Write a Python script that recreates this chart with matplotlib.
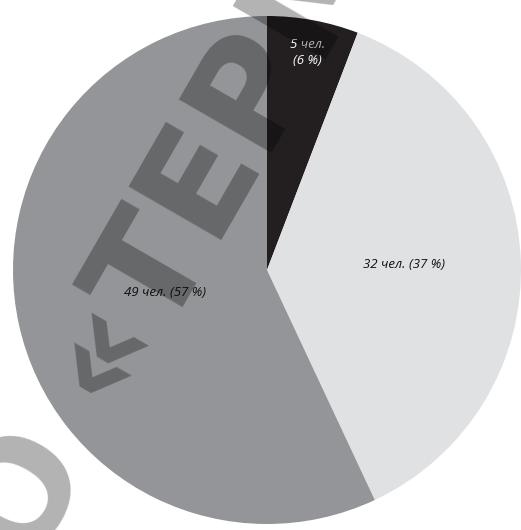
import numpy as np
import matplotlib.pyplot as plt

# people per answer and their shares
counts = [5, 32, 49]
shares = [6, 37, 57]
colors = ['#231f20', '#e0e1e3', '#939598']
text_colors = ['white', '#111111', '#111111']
label_r = [0.87, 0.54, 0.41]
labels = [f'{c} чел.\n({p} %)' if c < 10 else f'{c} чел. ({p} %)'
          for c, p in zip(counts, shares)]

W, H = 521, 530
cx, cy, R = 267, 270, 254   # pie centre / radius in pixels

fig = plt.figure(figsize=(W / 100, H / 100), dpi=100)
ax = fig.add_axes([0, 0, 1, 1])

wedges, _ = ax.pie(counts, colors=colors, startangle=90, counterclock=False,
                   radius=1, wedgeprops=dict(linewidth=0))

for w, lab, r, tc in zip(wedges, labels, label_r, text_colors):
    ang = np.deg2rad((w.theta1 + w.theta2) / 2)
    ax.text(r * np.cos(ang), r * np.sin(ang), lab, ha='center', va='center',
            fontsize=9.5, fontstyle='italic', family='Open Sans', color=tc,
            linespacing=1.25)

ax.set_xlim(-cx / R, (W - cx) / R)
ax.set_ylim(-(H - cy) / R, cy / R)
ax.set_aspect('equal')
ax.axis('off')

# publisher watermark
fig.text(-96 / W, 1 - 790 / H, 'ООО «ТЕРМИКА»', rotation=60,
         rotation_mode='anchor', ha='left', va='baseline',
         fontsize=106, fontweight='bold', family='DejaVu Sans',
         color='black', alpha=0.3)

fig.savefig('out.png', dpi=100)
